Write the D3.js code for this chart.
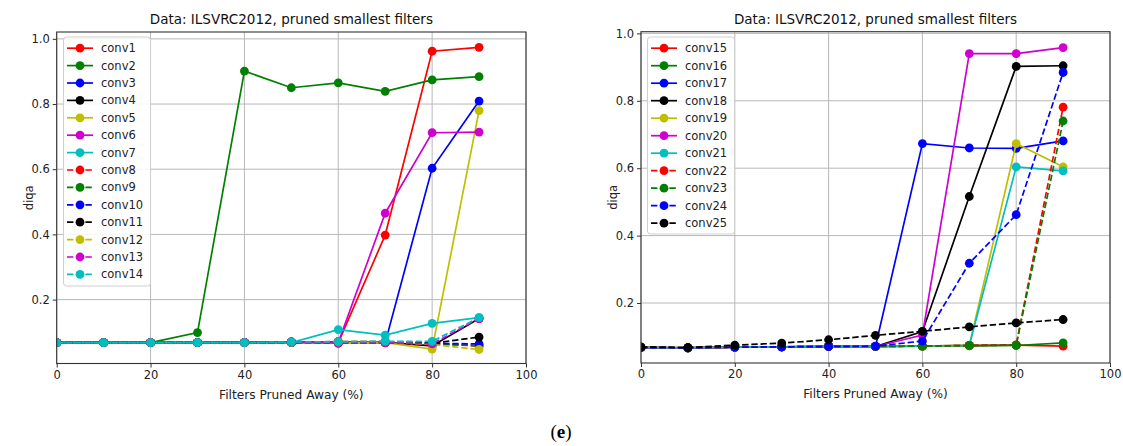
<!DOCTYPE html>
<html><head><meta charset="utf-8">
<script src="https://cdn.jsdelivr.net/npm/d3@7"></script>
<style>
html,body{margin:0;padding:0;background:#fff;}
svg{display:block;}
text{font-family:"DejaVu Sans",sans-serif;}
</style></head>
<body>
<svg id="chart" width="1123" height="446"></svg>
<script>
// ---------- data ----------
const xValues = [0, 10, 20, 30, 40, 50, 60, 70, 80, 90];
const xTicks = [0, 20, 40, 60, 80, 100];
const yTicks = [0.2, 0.4, 0.6, 0.8, 1.0];
const titleText = "Data: ILSVRC2012, pruned smallest filters";
const xLabelText = "Filters Pruned Away (%)";
const yLabelText = "diqa";

// left panel series
const conv1  = [0.068,0.068,0.068,0.068,0.068,0.068,0.068,0.398,0.962,0.974];
const conv2  = [0.068,0.068,0.068,0.099,0.901,0.850,0.865,0.839,0.874,0.884];
const conv3  = [0.068,0.068,0.068,0.068,0.068,0.069,0.068,0.068,0.603,0.809];
const conv4  = [0.068,0.068,0.068,0.068,0.068,0.069,0.070,0.069,0.058,0.142];
const conv5  = [0.068,0.068,0.068,0.068,0.068,0.068,0.068,0.068,0.048,0.780];
const conv6  = [0.068,0.068,0.068,0.068,0.069,0.070,0.068,0.465,0.712,0.714];
const conv7  = [0.068,0.068,0.068,0.068,0.068,0.068,0.108,0.091,0.127,0.145];
const conv8  = [0.068,0.068,0.068,0.068,0.068,0.068,0.066,0.067,0.064,0.058];
const conv9  = [0.068,0.068,0.068,0.068,0.068,0.069,0.070,0.070,0.066,0.058];
const conv10 = [0.068,0.068,0.068,0.068,0.068,0.069,0.070,0.070,0.066,0.064];
const conv11 = [0.068,0.068,0.068,0.068,0.068,0.070,0.071,0.071,0.066,0.085];
const conv12 = [0.068,0.068,0.068,0.068,0.068,0.069,0.071,0.071,0.062,0.047];
const conv13 = [0.068,0.068,0.068,0.068,0.068,0.070,0.068,0.068,0.064,0.142];
const conv14 = [0.068,0.068,0.068,0.068,0.068,0.070,0.070,0.072,0.072,0.145];

// right panel series
const conv15 = [0.068,0.067,0.069,0.070,0.071,0.071,0.072,0.074,0.075,0.072];
const conv16 = [0.068,0.067,0.069,0.070,0.071,0.071,0.072,0.073,0.074,0.082];
const conv17 = [0.068,0.067,0.069,0.070,0.071,0.071,0.673,0.660,0.659,0.681];
const conv18 = [0.068,0.067,0.069,0.070,0.071,0.071,0.115,0.516,0.902,0.904];
const conv19 = [0.068,0.067,0.069,0.070,0.071,0.071,0.072,0.074,0.673,0.604];
const conv20 = [0.068,0.067,0.069,0.070,0.071,0.071,0.105,0.940,0.940,0.958];
const conv21 = [0.068,0.067,0.069,0.070,0.071,0.071,0.072,0.074,0.604,0.592];
const conv22 = [0.068,0.067,0.069,0.070,0.071,0.071,0.072,0.074,0.076,0.781];
const conv23 = [0.068,0.067,0.069,0.070,0.071,0.071,0.072,0.074,0.075,0.740];
const conv24 = [0.068,0.067,0.069,0.070,0.071,0.072,0.087,0.318,0.462,0.884];
const conv25 = [0.070,0.068,0.075,0.081,0.091,0.104,0.116,0.129,0.141,0.151];

const leftNames  = ["conv1","conv2","conv3","conv4","conv5","conv6","conv7","conv8","conv9","conv10","conv11","conv12","conv13","conv14"];
const leftValues = [conv1,conv2,conv3,conv4,conv5,conv6,conv7,conv8,conv9,conv10,conv11,conv12,conv13,conv14];
const leftDashed = [false,false,false,false,false,false,false,true,true,true,true,true,true,true];
const leftColors = ["r","g","b","k","y","m","c","r","g","b","k","y","m","c"];

const rightNames  = ["conv15","conv16","conv17","conv18","conv19","conv20","conv21","conv22","conv23","conv24","conv25"];
const rightValues = [conv15,conv16,conv17,conv18,conv19,conv20,conv21,conv22,conv23,conv24,conv25];
const rightDashed = [false,false,false,false,false,false,false,true,true,true,true];
const rightColors = ["r","g","b","k","y","m","c","r","g","b","k"];

// ---------- styles ----------
const colorMap = {r:"#ff0000", g:"#008000", b:"#0000ff", k:"#000000", y:"#bfbf00", m:"#d000d0", c:"#00bfbf"};
const LW = 1.7, MR = 4.4, DASH = "6.4,2.8";
const FS = 11.5;

const svg = d3.select("#chart");

function drawPanel(id, box, yDomain, names, values, dashed, colors, legendBox, legendStep) {
  const x = d3.scaleLinear().domain([0, 100]).range([box.x0, box.x1]);
  const y = d3.scaleLinear().domain(yDomain).range([box.y1, box.y0]);
  const g = svg.append("g");

  g.append("clipPath").attr("id", "clip" + id).append("rect")
    .attr("x", box.x0).attr("y", box.y0).attr("width", box.x1 - box.x0).attr("height", box.y1 - box.y0);

  // grid
  g.append("g").selectAll("line").data(xTicks).join("line")
    .attr("x1", d => x(d)).attr("x2", d => x(d)).attr("y1", box.y0).attr("y2", box.y1)
    .attr("stroke", "#b8b8b8").attr("stroke-width", 1);
  g.append("g").selectAll("line").data(yTicks).join("line")
    .attr("x1", box.x0).attr("x2", box.x1).attr("y1", d => y(d)).attr("y2", d => y(d))
    .attr("stroke", "#b8b8b8").attr("stroke-width", 1);

  // axes
  const xAxis = d3.axisBottom(x).tickValues(xTicks).tickFormat(d3.format("d")).tickSizeInner(4).tickSizeOuter(0).tickPadding(3);
  const yAxis = d3.axisLeft(y).tickValues(yTicks).tickFormat(d3.format(".1f")).tickSizeInner(4).tickSizeOuter(0).tickPadding(3);
  const gx = g.append("g").attr("transform", `translate(0,${box.y1})`).call(xAxis);
  const gy = g.append("g").attr("transform", `translate(${box.x0},0)`).call(yAxis);
  [gx, gy].forEach(a => {
    a.select(".domain").remove();
    a.selectAll(".tick line").attr("stroke", "#333").attr("stroke-width", 1);
    a.selectAll(".tick text").attr("fill", "#222").style("font-size", FS + "px").style("font-family", "DejaVu Sans");
  });

  // series
  const line = d3.line().x((d, i) => x(xValues[i])).y(d => y(d));
  const plot = g.append("g").attr("clip-path", `url(#clip${id})`);
  values.forEach((vals, k) => {
    const col = colorMap[colors[k]];
    const s = plot.append("g");
    s.append("path").datum(vals).attr("d", line).attr("fill", "none")
      .attr("stroke", col).attr("stroke-width", LW)
      .attr("stroke-dasharray", dashed[k] ? DASH : null);
    s.selectAll("circle").data(vals).join("circle")
      .attr("cx", (d, i) => x(xValues[i])).attr("cy", d => y(d)).attr("r", MR).attr("fill", col);
  });

  // frame
  g.append("rect").attr("x", box.x0).attr("y", box.y0).attr("width", box.x1 - box.x0).attr("height", box.y1 - box.y0)
    .attr("fill", "none").attr("stroke", "#333").attr("stroke-width", 1.1);

  // title & labels
  const cx = (box.x0 + box.x1) / 2;
  g.append("text").attr("x", cx).attr("y", box.y0 - 8).attr("text-anchor", "middle")
    .style("font-size", "13.5px").attr("fill", "#111").text(titleText);
  g.append("text").attr("x", cx).attr("y", box.y1 + 35).attr("text-anchor", "middle")
    .style("font-size", "12.2px").attr("fill", "#222").text(xLabelText);
  g.append("text").attr("transform", `translate(${box.x0 - 24},${(box.y0 + box.y1) / 2}) rotate(-90)`)
    .attr("text-anchor", "middle").style("font-size", FS + "px").attr("fill", "#222").text(yLabelText);

  // legend
  const lg = g.append("g");
  lg.append("rect").attr("x", legendBox.x).attr("y", legendBox.y).attr("width", legendBox.w).attr("height", legendBox.h)
    .attr("rx", 3).attr("fill", "#fff").attr("fill-opacity", 0.85).attr("stroke", "#d0d0d0").attr("stroke-width", 1);
  names.forEach((n, k) => {
    const yy = legendBox.y + 11.2 + k * legendStep;
    const col = colorMap[colors[k]];
    const lx = legendBox.x + 3.5;
    lg.append("line").attr("x1", lx).attr("x2", lx + 26).attr("y1", yy).attr("y2", yy)
      .attr("stroke", col).attr("stroke-width", LW).attr("stroke-dasharray", dashed[k] ? DASH : null);
    lg.append("circle").attr("cx", lx + 13).attr("cy", yy).attr("r", MR).attr("fill", col);
    lg.append("text").attr("x", lx + 34).attr("y", yy + 4).style("font-size", FS + "px").attr("fill", "#222").text(n);
  });
}

drawPanel("L", {x0: 56.7, x1: 526, y0: 32, y1: 363.5}, [0.004, 1.021],
  leftNames, leftValues, leftDashed, leftColors, {x: 63.5, y: 37, w: 87, h: 249}, 17.4);
drawPanel("R", {x0: 641, x1: 1110, y0: 31.7, y1: 363}, [0.022, 1.005],
  rightNames, rightValues, rightDashed, rightColors, {x: 647.5, y: 37, w: 87, h: 197}, 17.5);

// sub-figure label
const lab = svg.append("text").attr("x", 561).attr("y", 438).attr("text-anchor", "middle")
  .style("font-family", "Liberation Serif, serif").style("font-size", "19px").attr("fill", "#000");
lab.append("tspan").text("(");
lab.append("tspan").attr("font-weight", "bold").text("e");
lab.append("tspan").text(")");
</script>
</body></html>
